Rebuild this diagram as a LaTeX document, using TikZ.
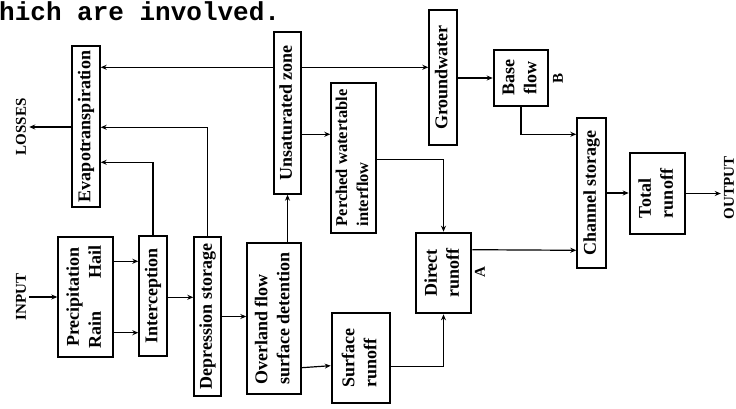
\documentclass[tikz,border=0pt]{standalone}
\usepackage{fontspec}
\setmainfont{Liberation Serif}
\setmonofont{Liberation Mono}
\usetikzlibrary{arrows.meta,calc}
% upright text set bottom to top
\newcommand{\vlab}[2][c]{\rotatebox{90}{\begin{tabular}{@{}#1@{}}#2\end{tabular}}}

\begin{document}
\begin{tikzpicture}[x=1pt,y=-1pt,
  box/.style={draw,line width=1.4pt,inner sep=0pt,font=\bfseries\fontsize{18}{22}\selectfont},
  thickbox/.style={box,line width=2.6pt},
  lbl/.style={inner sep=3pt,font=\bfseries\fontsize{15}{18}\selectfont},
  flow/.style={line width=1.2pt,-{Stealth[length=6pt,width=5pt]}}]
\useasboundingbox (0,0) rectangle (736,409);

% Text Node (page line above the figure)
\node[anchor=base west,inner sep=0pt,font=\ttfamily\bfseries\fontsize{26}{26}\selectfont] (caption) at (-1,21) {hich are involved.};

% Boxes
\node[box,minimum width=28,minimum height=161] (evap) at (86,126.5) {\vlab{Evapotranspiration}};
\node[box,minimum width=55,minimum height=120] (precip) at (85.5,297) {\vlab{Precipitation\\\makebox[103pt]{Rain\hfill Hail}}};
\node[box,minimum width=28,minimum height=120] (intercept) at (153,296) {\vlab{Interception}};
\node[box,minimum width=27,minimum height=159] (depress) at (207.5,316.5) {\vlab{Depression storage}};
\node[box,minimum width=54,minimum height=151] (overland) at (274,318.5) {\vlab[l]{Overland flow\\surface detention}};
\node[box,minimum width=27,minimum height=162] (unsat) at (287.5,113) {\vlab{Unsaturated zone}};
\node[box,minimum width=45,minimum height=150,font=\bfseries\fontsize{16.5}{21}\selectfont] (perched) at (353.5,158) {\vlab[l]{Perched watertable\\interflow}};
\node[box,minimum width=28,minimum height=135] (ground) at (443,77.5) {\vlab{Groundwater}};
\node[thickbox,minimum width=58,minimum height=90] (surface) at (361,358) {\vlab[l]{Surface\\runoff}};
\node[thickbox,minimum width=55,minimum height=80] (direct) at (443.5,273) {\vlab{Direct\\runoff}};
\node[thickbox,minimum width=54,minimum height=56] (base) at (521,78) {\vlab{Base\\flow}};
\node[box,minimum width=29,minimum height=150] (channel) at (591.5,193) {\vlab{Channel storage}};
\node[thickbox,minimum width=55,minimum height=81] (total) at (657.5,193.5) {\vlab[l]{Total\\runoff}};

% Labels
\node[lbl] (losses) at (21,127) {\rotatebox{90}{LOSSES}};
\node[lbl] (input) at (21,297) {\rotatebox{90}{INPUT}};
\node[lbl] (output) at (729,188) {\rotatebox{90}{OUTPUT}};
\node[lbl,inner sep=0pt] (alab) at (480,272) {\rotatebox{90}{A}};
\node[lbl,inner sep=0pt] (blab) at (558,78) {\rotatebox{90}{B}};

% Flows
\draw[flow] ($(unsat.north west)+(0,36)$) -- ($(evap.north east)+(0,22)$);
\draw[flow] ($(unsat.north east)+(0,36)$) -- ($(ground.north west)+(0,58)$);
\draw[flow] (depress.north) |- ($(evap.north east)+(0,82)$);
\draw[flow] (intercept.north) |- ($(evap.north east)+(0,117)$);
\draw[flow] (evap.west |- losses) -- (losses);
\draw[flow] (input) -- (precip);
\draw[flow] ($(precip.north east)+(0,25)$) -- ($(intercept.north west)+(0,26)$);
\draw[flow] ($(precip.south east)+(0,-25)$) -- ($(intercept.south west)+(0,-24)$);
\draw[flow] ($(intercept.north east)+(0,62)$) -- ($(depress.north west)+(0,61)$);
\draw[flow] (depress.east) -- (depress.east -| overland.west);
\draw[flow] (unsat.south |- overland.north) -- (unsat.south);
\draw[flow] ($(unsat.north east)+(0,103)$) -- ($(perched.north west)+(0,52)$);
\draw[flow] ($(overland.south east)+(0,-27)$) -- ($(surface.north west)+(0,54)$);
\draw[flow] ($(surface.north east)+(0,55)$) -| (direct.south);
\draw[flow] ($(perched.north east)+(0,77)$) -| (direct.north);
\draw[flow] ($(direct.north east)+(0,18)$) -- ($(channel.north west)+(0,133)$);
\draw[flow] (ground.east |- base) -- (base.west);
\draw[flow] (base.south) |- ($(channel.north west)+(0,17)$);
\draw[flow] (channel.east) -- (channel.east -| total.west);
\draw[flow] (total.east) -- (total.east -| output.west);

\end{tikzpicture}
\end{document}
